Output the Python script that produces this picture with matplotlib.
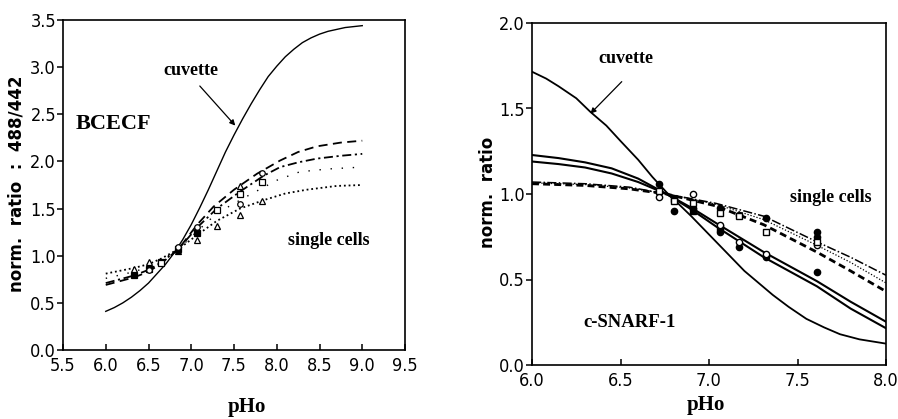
import matplotlib
matplotlib.use("Agg")
import matplotlib.pyplot as plt
from matplotlib import font_manager as fm

# ---------------- BCECF (left) ----------------
bcecf_ticks_x = [5.5, 6.0, 6.5, 7.0, 7.5, 8.0, 8.5, 9.0, 9.5]
bcecf_ticks_y = [0.0, 0.5, 1.0, 1.5, 2.0, 2.5, 3.0, 3.5]

bcecf_cuv_ph = [6.0, 6.1, 6.2, 6.3, 6.4, 6.5, 6.6, 6.7, 6.8, 6.9, 7.0, 7.1, 7.2, 7.3, 7.4,
                7.5, 7.6, 7.7, 7.8, 7.9, 8.0, 8.1, 8.2, 8.3, 8.4, 8.5, 8.6, 8.8, 9.0]
bcecf_cuv_r = [0.41, 0.45, 0.50, 0.56, 0.63, 0.71, 0.81, 0.91, 1.03, 1.17, 1.33, 1.51, 1.70, 1.90, 2.10,
               2.28, 2.45, 2.61, 2.76, 2.90, 3.01, 3.11, 3.19, 3.26, 3.31, 3.35, 3.38, 3.42, 3.44]

bcecf_dash_ph = [6.0, 6.33, 6.5, 6.65, 6.85, 7.07, 7.26, 7.5, 7.77, 8.04, 8.25, 8.47, 8.75, 9.0]
bcecf_dash_r = [0.69, 0.77, 0.83, 0.92, 1.07, 1.33, 1.52, 1.70, 1.87, 2.01, 2.10, 2.16, 2.20, 2.22]

bcecf_dashdot_ph = [6.0, 6.33, 6.5, 6.65, 6.85, 7.07, 7.30, 7.57, 7.85, 8.04, 8.25, 8.47, 8.75, 9.0]
bcecf_dashdot_r = [0.71, 0.79, 0.85, 0.93, 1.07, 1.30, 1.50, 1.68, 1.85, 1.94, 1.99, 2.03, 2.06, 2.08]

bcecf_sparse_ph = [6.0, 6.33, 6.5, 6.65, 6.85, 7.07, 7.30, 7.61, 8.0, 8.27, 8.6, 9.0]
bcecf_sparse_r = [0.76, 0.83, 0.88, 0.95, 1.07, 1.26, 1.45, 1.61, 1.80, 1.89, 1.92, 1.94]

bcecf_dense_ph = [6.0, 6.33, 6.5, 6.65, 6.85, 7.07, 7.30, 7.57, 7.85, 8.1, 8.35, 8.7, 9.0]
bcecf_dense_r = [0.81, 0.87, 0.91, 0.97, 1.07, 1.22, 1.37, 1.50, 1.59, 1.66, 1.70, 1.74, 1.75]

bcecf_fsq_ph = [6.33, 6.5, 6.65, 6.85, 7.07]
bcecf_fsq_r = [0.80, 0.86, 0.93, 1.07, 1.24]
bcecf_ftri_ph = [6.33, 6.5, 6.85]
bcecf_ftri_r = [0.84, 0.90, 1.05]
bcecf_oc_ph = [6.5, 6.85, 7.07, 7.57, 7.83]
bcecf_oc_r = [0.85, 1.09, 1.30, 1.55, 1.88]
bcecf_otri_ph = [6.33, 6.5, 7.07, 7.30, 7.57, 7.57, 7.83]
bcecf_otri_r = [0.86, 0.93, 1.17, 1.32, 1.43, 1.74, 1.58]
bcecf_osq_ph = [6.65, 7.30, 7.57, 7.83]
bcecf_osq_r = [0.92, 1.49, 1.65, 1.78]

# ---------------- c-SNARF-1 (right) ----------------
snarf_ticks_x = [6.0, 6.5, 7.0, 7.5, 8.0]
snarf_ticks_y = [0.0, 0.5, 1.0, 1.5, 2.0]

snarf_cuv_ph = [6.0, 6.08, 6.15, 6.25, 6.33, 6.42, 6.5, 6.6, 6.68, 6.76, 6.9, 7.05, 7.2, 7.28,
                7.36, 7.45, 7.55, 7.65, 7.74, 7.85, 8.0]
snarf_cuv_r = [1.715, 1.675, 1.63, 1.56, 1.48, 1.40, 1.31, 1.20, 1.10, 1.01, 0.87, 0.71, 0.55, 0.48,
               0.41, 0.34, 0.27, 0.22, 0.18, 0.15, 0.125]

snarf_solid_a_ph = [6.0, 6.15, 6.3, 6.45, 6.6, 6.76, 6.9, 7.04, 7.31, 7.61, 7.8, 8.0]
snarf_solid_a_r = [1.228, 1.21, 1.185, 1.15, 1.09, 1.00, 0.92, 0.83, 0.66, 0.49, 0.37, 0.253]
snarf_solid_b_ph = [6.0, 6.15, 6.3, 6.45, 6.6, 6.76, 6.9, 7.04, 7.31, 7.61, 7.8, 8.0]
snarf_solid_b_r = [1.19, 1.175, 1.155, 1.12, 1.07, 1.00, 0.91, 0.81, 0.63, 0.46, 0.33, 0.215]

snarf_dashdot_ph = [6.0, 6.3, 6.55, 6.76, 7.04, 7.31, 7.61, 7.8, 8.0]
snarf_dashdot_r = [1.07, 1.06, 1.04, 1.00, 0.945, 0.87, 0.72, 0.63, 0.525]
snarf_dotted_ph = [6.0, 6.3, 6.55, 6.76, 7.04, 7.31, 7.61, 7.8, 8.0]
snarf_dotted_r = [1.065, 1.055, 1.035, 1.00, 0.94, 0.85, 0.70, 0.60, 0.48]
snarf_dashed_ph = [6.0, 6.3, 6.55, 6.76, 7.04, 7.31, 7.61, 7.8, 8.0]
snarf_dashed_r = [1.06, 1.05, 1.03, 1.00, 0.93, 0.82, 0.66, 0.55, 0.43]

snarf_fc_ph = [6.72, 6.80, 6.91, 7.06, 7.06, 7.17, 7.17, 7.32, 7.32, 7.61, 7.61, 7.61]
snarf_fc_r = [1.06, 0.90, 0.92, 0.92, 0.78, 0.88, 0.69, 0.86, 0.63, 0.78, 0.75, 0.545]
snarf_oc_ph = [6.72, 6.91, 7.06, 7.17, 7.32, 7.61]
snarf_oc_r = [0.98, 1.00, 0.82, 0.72, 0.65, 0.70]
snarf_osq_ph = [6.72, 6.80, 6.91, 7.06, 7.17, 7.32, 7.61]
snarf_osq_r = [1.02, 0.96, 0.95, 0.89, 0.87, 0.78, 0.72]
snarf_fsq_ph = [6.80, 6.91, 7.06]
snarf_fsq_r = [0.97, 0.90, 0.80]


def first_family(candidates, fallback):
    names = {f.name for f in fm.fontManager.ttflist}
    for c in candidates:
        if c in names:
            return c
    return fallback


SERIF = first_family(["Liberation Serif", "Tinos", "DejaVu Serif"], "serif")
TICK_FONT = dict(family="DejaVu Sans", stretch="condensed", size=13)
LABEL_FONT = dict(family="DejaVu Sans", weight="bold", size=12)
NOTE_FONT = dict(family=SERIF, weight="bold")

plt.rcParams["axes.linewidth"] = 1.2

fig = plt.figure(figsize=(8.98, 4.19), dpi=100)
W, H = 898.0, 419.0


def make_axes(left, top, right, bottom):
    return fig.add_axes([left / W, 1 - bottom / H, (right - left) / W, (bottom - top) / H])


def style_axes(ax, xt, yt):
    ax.set_xticks(xt)
    ax.set_yticks(yt)
    ax.set_xticklabels([f"{v:.1f}" for v in xt], fontdict=TICK_FONT)
    ax.set_yticklabels([f"{v:.1f}" for v in yt], fontdict=TICK_FONT)
    ax.tick_params(axis="x", direction="in", length=4, width=1.1, pad=5)
    ax.tick_params(axis="y", direction="out", length=4, width=1.1, pad=1)
    for s in ax.spines.values():
        s.set_color("black")


arrow = dict(arrowstyle="-|>", color="black", lw=0.9, mutation_scale=8, shrinkA=0, shrinkB=0)

# ---------- left panel ----------
axL = make_axes(63, 20, 405, 350)
axL.set_xlim(5.5, 9.5)
axL.set_ylim(0.0, 3.5)
style_axes(axL, bcecf_ticks_x, bcecf_ticks_y)

axL.plot(bcecf_cuv_ph, bcecf_cuv_r, color="black", lw=1.0)
axL.plot(bcecf_dash_ph, bcecf_dash_r, color="black", lw=1.3, ls=(0, (5, 3)))
axL.plot(bcecf_dashdot_ph, bcecf_dashdot_r, color="black", lw=1.3, ls=(0, (5, 2, 1.2, 2)))
axL.plot(bcecf_sparse_ph, bcecf_sparse_r, color="black", lw=1.0, ls=(0, (1, 7)))
axL.plot(bcecf_dense_ph, bcecf_dense_r, color="black", lw=1.3, ls=(0, (1, 1.6)))

mk = dict(ls="none", color="black", ms=4, mew=0.9)
axL.plot(bcecf_fsq_ph, bcecf_fsq_r, marker="s", **mk)
axL.plot(bcecf_ftri_ph, bcecf_ftri_r, marker="^", **mk)
axL.plot(bcecf_oc_ph, bcecf_oc_r, marker="o", mfc="white", **mk)
axL.plot(bcecf_otri_ph, bcecf_otri_r, marker="^", mfc="white", **mk)
axL.plot(bcecf_osq_ph, bcecf_osq_r, marker="s", mfc="white", **mk)

axL.text(6.99, 2.96, "cuvette", ha="center", va="center", size=13, **NOTE_FONT)
axL.annotate("", xy=(7.515, 2.38), xytext=(7.10, 2.80), arrowprops=arrow)
axL.text(6.09, 2.40, "BCECF", ha="center", va="center", size=16, **NOTE_FONT)
axL.text(8.61, 1.16, "single cells", ha="center", va="center", size=13, **NOTE_FONT)

fig.text(247 / W, 1 - 407 / H, "pHo", ha="center", va="center", size=15, **NOTE_FONT)
fig.text(17 / W, 1 - 292 / H, "norm.  ratio  :  488/442", rotation=90,
         ha="center", va="bottom", **LABEL_FONT)

# ---------- right panel ----------
axR = make_axes(532, 23, 886, 365)
axR.set_xlim(6.0, 8.0)
axR.set_ylim(0.0, 2.0)
style_axes(axR, snarf_ticks_x, snarf_ticks_y)

axR.plot(snarf_cuv_ph, snarf_cuv_r, color="black", lw=1.3)
axR.plot(snarf_solid_a_ph, snarf_solid_a_r, color="black", lw=1.5)
axR.plot(snarf_solid_b_ph, snarf_solid_b_r, color="black", lw=1.5)
axR.plot(snarf_dashdot_ph, snarf_dashdot_r, color="black", lw=1.1, ls=(0, (6, 1.5, 1, 1.5)))
axR.plot(snarf_dotted_ph, snarf_dotted_r, color="black", lw=0.9, ls=(0, (1, 1.5)))
axR.plot(snarf_dashed_ph, snarf_dashed_r, color="black", lw=2.0, ls=(0, (2.5, 1.5)))

mk2 = dict(ls="none", color="black", ms=4.5, mew=1.0)
axR.plot(snarf_fc_ph, snarf_fc_r, marker="o", **mk2)
axR.plot(snarf_fsq_ph, snarf_fsq_r, marker="s", **mk2)
axR.plot(snarf_oc_ph, snarf_oc_r, marker="o", mfc="white", **mk2)
axR.plot(snarf_osq_ph, snarf_osq_r, marker="s", mfc="white", **mk2)

axR.text(6.53, 1.795, "cuvette", ha="center", va="center", size=13, **NOTE_FONT)
axR.annotate("", xy=(6.33, 1.47), xytext=(6.507, 1.657), arrowprops=arrow)
axR.text(7.69, 0.98, "single cells", ha="center", va="center", size=13, **NOTE_FONT)
axR.text(6.55, 0.25, "c-SNARF-1", ha="center", va="center", size=13.5, **NOTE_FONT)

fig.text(706 / W, 1 - 405 / H, "pHo", ha="center", va="center", size=15, **NOTE_FONT)
fig.text(488 / W, 1 - 192 / H, "norm.  ratio", rotation=90,
         ha="center", va="center", **LABEL_FONT)

fig.savefig("out.png", dpi=100)
